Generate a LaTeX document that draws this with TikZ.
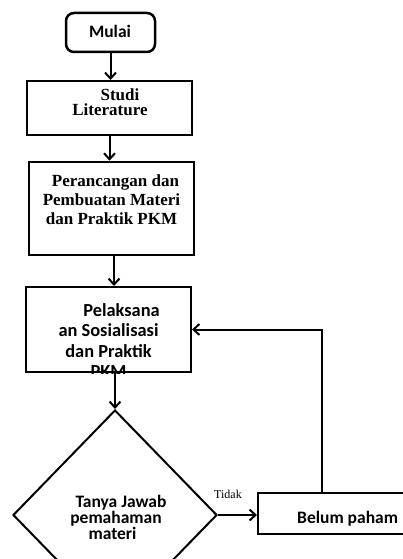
\documentclass[tikz,border=0pt]{standalone}
\usepackage{fontspec}
\setmainfont{Liberation Serif}
\newfontfamily\calibri{Carlito}
\usetikzlibrary{arrows.meta, shapes.geometric}

\begin{document}
\begin{tikzpicture}[x=1pt, y=-1pt,
  box/.style={draw, line width=2pt, inner sep=0pt},
  flow/.style={-{Straight Barb[length=6pt,width=11pt]}, line width=2pt},
  sertxt/.style={font={\bfseries\fontsize{17}{19}\selectfont}, align=center, inner sep=0pt},
  santxt/.style={font={\calibri\bfseries\fontsize{17.5}{14}\selectfont}, align=center, inner sep=0pt}]
  \clip (0,0) rectangle (403,559);
  % boxes
  \node[box, rounded corners=8pt, line width=2.5pt, minimum width=89pt, minimum height=39pt] (mulai) at (110.5,32.5) {};
  \node[box, minimum width=165pt, minimum height=54pt] (studi) at (109.5,108) {};
  \node[box, line width=2.6pt, minimum width=165pt, minimum height=93pt] (peran) at (111.5,208.5) {};
  \node[box, minimum width=165pt, minimum height=85pt] (pelak) at (108.5,329.5) {};
  \node[box, diamond, minimum width=204pt, minimum height=210pt] (tanya) at (115,515) {};
  \node[box, minimum width=180pt, minimum height=41pt] (belum) at (348,513.5) {};
  % texts
  \node[santxt, anchor=base] (mulaiTxt) at (110,38) {Mulai};
  \node[sertxt, anchor=north, font={\bfseries\fontsize{17}{15}\selectfont}] (studiTxt) at (110,88.4) {\hspace*{20pt}Studi\\Literature};
  \node[sertxt, anchor=north] (peranTxt) at (111.5,174.5) {\hspace*{8pt}Perancangan dan\\Pembuatan Materi\\dan Praktik PKM};
  \begin{scope}
    \clip (pelak.north west) rectangle (pelak.south east);
    \node[santxt, anchor=north, font={\calibri\bfseries\fontsize{18.4}{20.5}\selectfont}] (pelakTxt) at (108.5,303) {\hspace*{26pt}Pelaksana\\an Sosialisasi\\dan Praktik\\PKM};
  \end{scope}
  \node[santxt, anchor=north] (tanyaTxt) at (116,494.7) {\hspace*{10pt}Tanya Jawab\\pemahaman\\materi\hspace*{7pt}};
  \node[santxt, anchor=base west] (belumTxt) at (297,523) {Belum paham};
  \node[font={\fontsize{12}{14}\selectfont}, anchor=base, inner sep=0pt] (tidak) at (228,498) {Tidak};
  % arrows
  \draw[flow] (mulai.south) -- (mulai.south |- studi.north);
  \draw[flow] (studi.south) -- (studi.south |- peran.north);
  \draw[flow] ([xshift=2.5pt]peran.south) -- ([xshift=2.5pt]peran.south |- pelak.north);
  \draw[flow] (tanya.north |- pelak.south) -- (tanya.north);
  \draw[flow] (tanya.east) -- (tanya.east -| belum.west);
  \draw[flow] ([xshift=-26pt]belum.north) |- (pelak.east);
\end{tikzpicture}
\end{document}
